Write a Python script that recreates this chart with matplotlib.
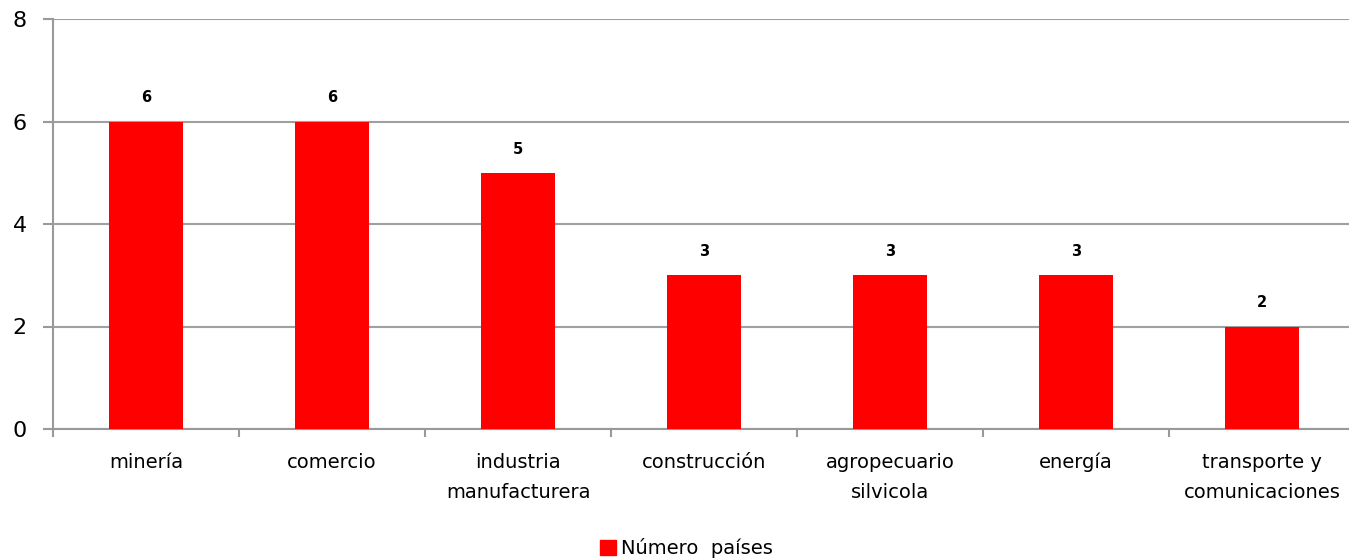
import matplotlib.pyplot as plt
import numpy as np
from matplotlib.patches import Patch

categorias = ['minería', 'comercio', 'industria\nmanufacturera', 'construcción',
              'agropecuario\nsilvicola', 'energía', 'transporte y\ncomunicaciones']
paises = [6, 6, 5, 3, 3, 3, 2]

plt.rcParams['font.family'] = ['DejaVu Sans']

fig = plt.figure(figsize=(13.49, 5.59), dpi=100)
ax = fig.add_axes([53 / 1349, 1 - 429 / 559, 1302 / 1349, 410 / 559])

x = np.arange(len(categorias))
bars = ax.bar(x, paises, width=0.4, color='#ff0000', zorder=3)

for b, v in zip(bars, paises):
    ax.annotate(str(v), (b.get_x() + b.get_width() / 2, v), xytext=(0, 17),
                textcoords='offset points', ha='center', va='center',
                fontsize=10.5, fontweight='bold')

ax.set_xlim(-0.5, len(categorias) - 0.5)
ax.set_ylim(0, 8)
ax.set_yticks([0, 2, 4, 6, 8])
ax.tick_params(axis='y', labelsize=16, length=7, width=1.5, color='#999999', pad=12)
ax.yaxis.grid(True, color='#a0a0a0', linewidth=1.5, zorder=0)

ax.set_xticks(x)
ax.set_xticklabels(categorias, fontsize=14, linespacing=1.75)
ax.tick_params(axis='x', length=0, pad=17)
ax.set_xticks(np.arange(len(categorias) + 1) - 0.5, minor=True)
ax.tick_params(axis='x', which='minor', length=6, width=1.5, color='#999999')

for s in ['top', 'right']:
    ax.spines[s].set_visible(False)
for s in ['left', 'bottom']:
    ax.spines[s].set_color('#999999')
    ax.spines[s].set_linewidth(1.5)

fig.legend(handles=[Patch(color='#ff0000', label='Número  países')],
           loc='lower center', bbox_to_anchor=(0.509, -0.03), frameon=False,
           fontsize=14, handlelength=0.8, handleheight=0.8, handletextpad=0.3)

fig.savefig('out.png', dpi=100)
